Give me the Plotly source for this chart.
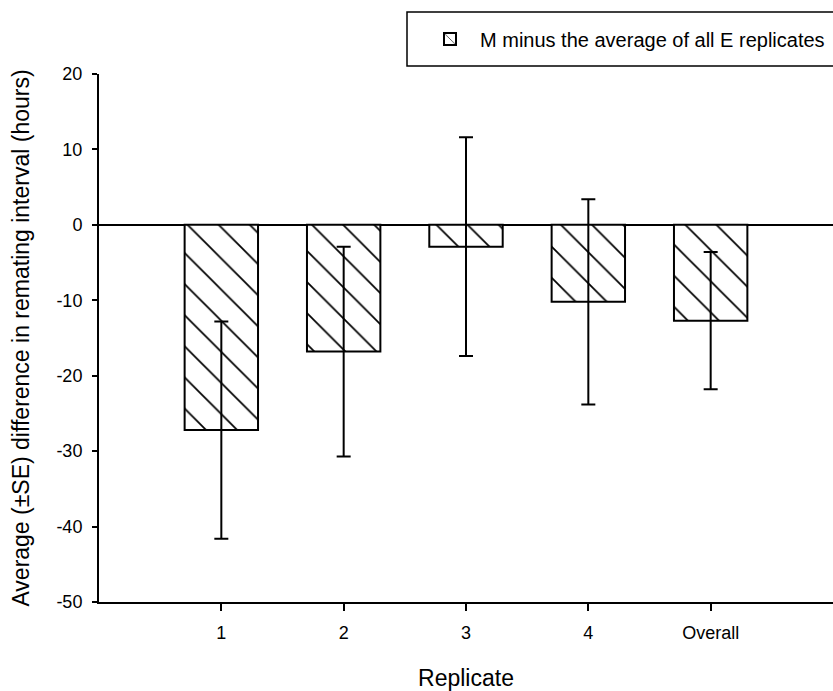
import plotly.graph_objects as go

categories = ["1", "2", "3", "4", "Overall"]
mean_diff = [-27.2, -16.8, -2.9, -10.2, -12.7]
se_diff = [14.4, 13.9, 14.5, 13.6, 9.1]
y_tickvals = [-50, -40, -30, -20, -10, 0, 10, 20]
y_ticktext = ["-50", "-40", "-30", "-20", "-10", "0", "10", "20"]
series_name = "M minus the average of all E replicates"

FONT = "Liberation Sans, Arial, sans-serif"

# plot area in pixels
L, R, T, B = 99, 0, 74, 89
W, H = 833, 691
PW, PH = W - L - R, H - T - B


def px_x(x):
    return (x - L) / PW


def px_y(y):
    return 1 + (T - y) / PH


fig = go.Figure()
fig.add_trace(go.Bar(
    x=categories,
    y=mean_diff,
    name=series_name,
    width=0.6,
    marker=dict(
        color="white",
        line=dict(color="black", width=2),
        pattern=dict(shape="\\", fgcolor="black", fgopacity=1, bgcolor="white",
                     size=22, solidity=0.08, fillmode="overlay"),
    ),
    error_y=dict(type="data", array=se_diff, visible=True, color="black", thickness=2, width=7),
    showlegend=True,
))

# legend frame
fig.add_shape(type="rect", xref="paper", yref="paper",
              x0=px_x(407), x1=px_x(845), y0=px_y(66), y1=px_y(12),
              line=dict(color="black", width=1.5), fillcolor="white", layer="below")

fig.update_layout(
    width=W,
    height=H,
    margin=dict(l=L, r=R, t=T, b=B, autoexpand=False),
    paper_bgcolor="white",
    plot_bgcolor="white",
    font=dict(family=FONT, color="black", size=18),
    showlegend=True,
    legend=dict(
        x=px_x(420), y=px_y(39), xanchor="left", yanchor="middle",
        borderwidth=0, bgcolor="rgba(0,0,0,0)",
        itemwidth=50,
        font=dict(size=20, family=FONT),
    ),
    xaxis=dict(
        type="category",
        range=[-1, 5],
        showline=True, linecolor="black", linewidth=2,
        ticks="outside", ticklen=7, tickwidth=2, tickcolor="black",
        ticklabelstandoff=6,
        showgrid=False, zeroline=False,
        tickfont=dict(size=18),
        title=dict(text="Replicate", font=dict(size=23), standoff=28),
    ),
    yaxis=dict(
        range=[-50, 20],
        tickvals=y_tickvals, ticktext=y_ticktext,
        showline=True, linecolor="black", linewidth=2,
        ticks="outside", ticklen=5, tickwidth=2, tickcolor="black",
        ticklabelstandoff=6,
        showgrid=False,
        zeroline=True, zerolinecolor="black", zerolinewidth=2,
        tickfont=dict(size=18),
        title=dict(text="Average (±SE) difference in remating interval (hours)", font=dict(size=23), standoff=20),
    ),
)

fig.write_html("out.html")
